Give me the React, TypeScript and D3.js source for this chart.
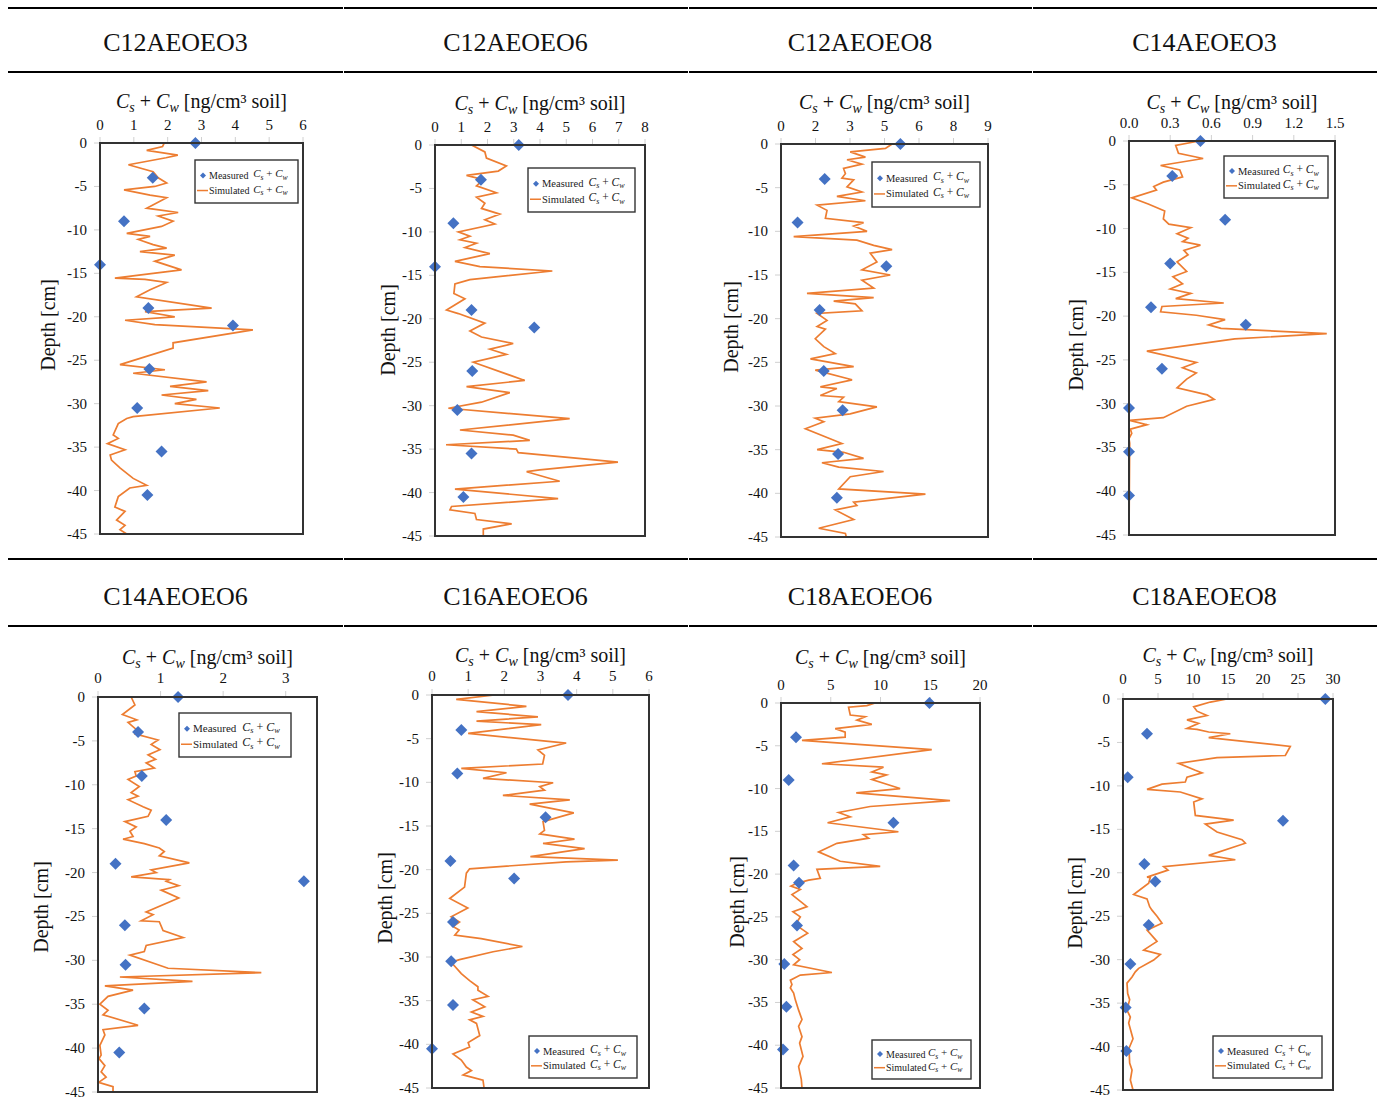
import React from 'react';
import * as d3 from 'd3';

// Sample names, in reading order (row 1 then row 2)
const SAMPLES = [
  'C12AEOEO3', 'C12AEOEO6', 'C12AEOEO8', 'C14AEOEO3',
  'C14AEOEO6', 'C16AEOEO6', 'C18AEOEO6', 'C18AEOEO8',
];

// Measured Cs + Cw, depths shared by all samples (null = no sample)
const MEASURED_DEPTH = [0, -4, -9, -14, -19, -21, -26, -30.5, -35.5, -40.5];
const MEASURED_C12AEOEO3 = [2.82, 1.56, 0.71, 0, 1.43, 3.93, 1.46, 1.1, 1.82, 1.4];
const MEASURED_C12AEOEO6 = [3.19, 1.75, 0.7, 0, 1.39, 3.78, 1.42, 0.85, 1.39, 1.08];
const MEASURED_C12AEOEO8 = [5.19, 1.9, 0.72, 4.58, 1.68, null, 1.86, 2.68, 2.48, 2.43];
const MEASURED_C14AEOEO3 = [0.52, 0.315, 0.7, 0.3, 0.16, 0.85, 0.24, 0, 0, 0];
const MEASURED_C14AEOEO6 = [1.28, 0.64, 0.7, 1.09, 0.28, 3.29, 0.43, 0.44, 0.74, 0.34];
const MEASURED_C16AEOEO6 = [3.76, 0.81, 0.7, 3.14, 0.51, 2.27, 0.58, 0.53, 0.58, 0];
const MEASURED_C18AEOEO6 = [14.92, 1.51, 0.77, 11.3, 1.27, 1.81, 1.61, 0.33, 0.54, 0.2];
const MEASURED_C18AEOEO8 = [28.9, 3.43, 0.67, 22.86, 3.05, 4.62, 3.67, 1.05, 0.38, 0.48];

// Simulated Cs + Cw profiles: [depth (cm), concentration]
const SIM_C12AEOEO3: [number, number][] = [
  [0, 1.9], [-0.4, 1.85], [-0.85, 1.38], [-1.4, 2.3], [-1.7, 1.95], [-2.5, 0.84], [-3.3, 1.57],
  [-4, 1.72], [-4.6, 1.97], [-5, 1.62], [-5.4, 0.71], [-6, 1.48], [-6.3, 1.97], [-7.5, 1.38],
  [-8, 2.31], [-8.4, 1.72], [-9, 2.16], [-9.6, 1.82], [-10.4, 0.79], [-10.75, 1.48], [-11.1, 1.13],
  [-11.7, 1.57], [-12.1, 1.97], [-12.5, 1.18], [-12.9, 2.21], [-13.6, 1.62], [-14.6, 2.41],
  [-15, 1.57], [-15.55, 0.44], [-15.7, 1.33], [-16.05, 1.97], [-16.9, 1.48], [-17.7, 1.08],
  [-19, 3.3], [-19.4, 1.33], [-20, 2.21], [-20.4, 0.74], [-20.9, 1.62], [-21.5, 4.52], [-23, 2.16],
  [-23.6, 2.16], [-25.5, 0.59], [-26.1, 1.92], [-26.5, 0.98], [-27.5, 3.15], [-28, 2.07],
  [-28.5, 3.2], [-29, 1.82], [-29.5, 2.85], [-30, 2.21], [-30.5, 3.54], [-31.5, 0.98],
  [-31.7, 0.79], [-32.3, 0.54], [-33.6, 0.39], [-34, 0.54], [-34.6, 0.22], [-35.3, 0.74],
  [-35.9, 0.3], [-36.5, 0.34], [-37.4, 0.59], [-38.6, 0.98], [-39.4, 1.38], [-39.7, 0.88],
  [-40.7, 0.54], [-41.9, 0.44], [-42.4, 0.74], [-43.4, 0.49], [-44, 0.74], [-44.5, 0.59], [-45, 0.79],
];
const SIM_C12AEOEO6: [number, number][] = [
  [0, 1.39], [-0.8, 1.9], [-1.5, 1.96], [-2.4, 2.72], [-3, 2.41], [-3.5, 1.2], [-4, 1.84],
  [-4.7, 1.58], [-5.5, 2.34], [-6, 1.58], [-6.7, 1.9], [-7.3, 1.77], [-7.95, 2.47], [-8.6, 1.9],
  [-9.1, 2.28], [-10, 0.89], [-10.5, 1.33], [-10.9, 0.95], [-11.3, 1.58], [-11.8, 1.14],
  [-12.5, 2.09], [-13.4, 0.76], [-14, 1.71], [-14.5, 4.47], [-15.5, 1.33], [-16, 0.76],
  [-17.1, 0.72], [-17.7, 1.14], [-19, 0.44], [-19.4, 0.89], [-20.5, 1.9], [-21.4, 1.33],
  [-22.1, 1.77], [-22.85, 2.98], [-23.5, 2.09], [-24.1, 2.72], [-25, 1.46], [-27.1, 3.42],
  [-27.8, 1.2], [-28.5, 2.85], [-29.6, 1.77], [-30.3, 0.51], [-31.5, 5.13], [-32.8, 0.95],
  [-33.4, 2.98], [-34, 3.61], [-34.5, 0.42], [-35, 3.1], [-35.4, 3.17], [-36.5, 6.97],
  [-37.4, 3.99], [-37.6, 3.49], [-38.7, 4.75], [-39.6, 0.76], [-40.7, 4.69], [-41.6, 0.63],
  [-42, 0.57], [-42.4, 1.52], [-43.1, 1.58], [-43.6, 2.92], [-44.2, 1.84], [-45, 1.84],
];
const SIM_C12AEOEO8: [number, number][] = [
  [0, 4.83], [-0.5, 4.54], [-0.9, 3.01], [-1.5, 3.67], [-1.8, 2.87], [-2.3, 3.52], [-2.8, 2.72],
  [-3.4, 2.8], [-3.9, 2.65], [-4.1, 3.16], [-4.9, 2.87], [-5.5, 3.52], [-6, 2.43], [-6.5, 3.67],
  [-7, 1.57], [-7.6, 2.0], [-8.5, 1.93], [-9, 3.59], [-9.4, 3.16], [-10, 3.74], [-10.6, 0.55],
  [-11, 3.3], [-11.6, 4.03], [-12.1, 4.83], [-12.5, 3.88], [-13.5, 4.17], [-14.4, 3.52],
  [-15, 4.75], [-15.6, 3.52], [-16.5, 4.03], [-17.1, 1.13], [-17.6, 4.03], [-18, 2.29],
  [-18.3, 3.23], [-19.1, 3.52], [-19.4, 1.57], [-20.2, 2.0], [-20.9, 1.57], [-21.2, 1.93],
  [-22.3, 1.49], [-23.2, 1.86], [-24, 2.36], [-24.6, 1.28], [-25.5, 3.16], [-25.9, 1.49],
  [-27, 3.09], [-27.8, 1.71], [-28, 2.43], [-28.8, 1.71], [-29, 2.72], [-29.5, 2.51],
  [-30.1, 4.17], [-30.9, 3.01], [-31.4, 1.49], [-31.8, 1.86], [-32.6, 1.06], [-34.3, 2.65],
  [-35, 1.57], [-35.3, 2.72], [-36, 3.59], [-36.5, 1.78], [-37, 2.51], [-37.5, 4.46],
  [-38.1, 3.01], [-39.5, 2.51], [-40.1, 6.28], [-41, 3.16], [-41.4, 3.3], [-41.9, 2.36],
  [-43, 3.16], [-44, 1.64], [-44.6, 2.8], [-45, 2.84],
];
const SIM_C14AEOEO3: [number, number][] = [
  [0, 0.51], [-0.5, 0.34], [-1.4, 0.36], [-2, 0.54], [-2.8, 0.23], [-3.3, 0.37], [-4.1, 0.39],
  [-4.7, 0.25], [-5.2, 0.18], [-5.6, 0.2], [-6.5, 0.02], [-7.2, 0.14], [-8, 0.26], [-8.9, 0.25],
  [-9.5, 0.29], [-9.9, 0.45], [-10.6, 0.35], [-11.1, 0.43], [-11.5, 0.39], [-11.9, 0.52],
  [-12.5, 0.4], [-13, 0.43], [-13.8, 0.35], [-14.9, 0.42], [-15.5, 0.32], [-16.3, 0.39],
  [-16.9, 0.3], [-17.4, 0.45], [-18, 0.34], [-18.5, 0.69], [-18.9, 0.24], [-19.5, 0.23],
  [-19.9, 0.49], [-20.4, 0.7], [-21, 0.58], [-21.4, 0.67], [-22, 1.44], [-22.6, 0.77],
  [-24, 0.13], [-25.3, 0.49], [-25.9, 0.39], [-26.5, 0.49], [-27.2, 0.42], [-28.2, 0.35],
  [-29, 0.57], [-29.5, 0.62], [-30.3, 0.42], [-31.6, 0.25], [-31.9, 0.005], [-32.4, 0.13],
  [-32.9, 0.01], [-33.4, 0.02], [-34, 0], [-34.5, 0.005], [-45, 0],
];
const SIM_C14AEOEO6: [number, number][] = [
  [0, 0.53], [-0.9, 0.59], [-2, 0.39], [-2.6, 0.62], [-2.9, 0.48], [-3.7, 0.61], [-4.2, 0.59],
  [-4.9, 0.96], [-5.4, 0.85], [-6, 0.99], [-6.6, 0.8], [-7.1, 0.92], [-7.5, 0.77], [-8.1, 0.9],
  [-8.5, 0.59], [-9, 0.61], [-9.4, 0.48], [-10.2, 0.66], [-10.9, 0.53], [-11.3, 0.64],
  [-11.7, 0.48], [-12.5, 0.72], [-12.9, 0.85], [-13.6, 0.8], [-14.2, 0.43], [-14.8, 0.61],
  [-15.3, 0.51], [-15.9, 0.56], [-16.2, 0.4], [-16.7, 0.74], [-17.2, 0.98], [-17.6, 1.06],
  [-18.1, 0.98], [-18.9, 1.46], [-19.7, 0.85], [-20, 0.93], [-20.5, 0.53], [-20.8, 1.14],
  [-21, 1.09], [-21.5, 1.29], [-22, 1.01], [-22.9, 1.29], [-24.5, 0.77], [-24.8, 0.88],
  [-25.5, 0.69], [-25.6, 0.98], [-26.6, 1.04], [-27.4, 1.36], [-28.3, 0.77], [-29, 0.74],
  [-29.4, 0.51], [-30.9, 1.12], [-31.4, 2.61], [-31.9, 0.35], [-32.4, 1.51], [-32.9, 0.11],
  [-33.4, 0.56], [-34.1, 0.16], [-35, 0.03], [-35.7, 0.16], [-36.2, 0.08], [-37.4, 0.64],
  [-37.9, 0.08], [-38.5, 0.11], [-39.7, 0.03], [-40.8, 0.05], [-41.2, 0.016], [-42, 0.11],
  [-42.7, 0.05], [-43.3, 0.13], [-43.9, 0.01], [-44.4, 0.24], [-45, 0.24],
];
const SIM_C16AEOEO6: [number, number][] = [
  [0, 1.73], [-0.5, 0.67], [-1.3, 2.61], [-1.9, 1.23], [-2.5, 2.93], [-3, 1.23], [-3.4, 3.02],
  [-4.4, 1.0], [-5.5, 3.71], [-6.3, 2.93], [-6.9, 3.11], [-7.9, 3.06], [-8.4, 0.81], [-8.9, 2.06],
  [-9.55, 1.41], [-10.05, 3.35], [-10.5, 2.98], [-10.9, 3.11], [-11.5, 1.96], [-12, 3.81],
  [-12.5, 2.7], [-13.5, 3.92], [-14.5, 3.07], [-15.5, 3.11], [-15.9, 2.98], [-16.5, 3.94],
  [-17, 3.07], [-17.6, 4.22], [-18.5, 2.72], [-18.9, 5.14], [-19.1, 3.71], [-19.9, 1.04],
  [-20.4, 0.95], [-22, 0.9], [-23.3, 0.49], [-24.4, 0.99], [-25.4, 0.53], [-26, 0.76],
  [-26.5, 0.58], [-26.9, 0.75], [-27.5, 0.63], [-27.9, 1.36], [-28.8, 2.5], [-29.4, 1.69],
  [-30.3, 0.76], [-30.6, 0.53], [-31.9, 0.81], [-32.7, 1.04], [-33.4, 1.27], [-33.8, 1.27],
  [-34.5, 1.55], [-34.9, 1.13], [-35.7, 1.46], [-36.3, 1.09], [-36.8, 1.41], [-37.2, 1.04],
  [-37.6, 1.23], [-39, 1.32], [-39.8, 1.0], [-40.3, 1.04], [-41.1, 0.58], [-41.8, 0.81],
  [-42.6, 0.95], [-43, 1.09], [-43.5, 0.86], [-43.7, 1.04], [-44.1, 1.41], [-45, 1.44],
];
const SIM_C18AEOEO6: [number, number][] = [
  [0, 9.46], [-0.3, 8.63], [-0.5, 6.79], [-1.4, 6.96], [-1.6, 8.46], [-2, 7.63], [-2.5, 9.13],
  [-3, 5.45], [-3.4, 6.45], [-4, 6.45], [-4.36, 2.11], [-5.45, 15.15], [-7.1, 4.11], [-7.5, 10.3],
  [-8.05, 9.13], [-8.4, 10.6], [-8.95, 9.13], [-10, 11.97], [-10.5, 7.56], [-11.4, 16.99],
  [-12.1, 8.96], [-12.8, 5.79], [-13.3, 6.96], [-14, 4.68], [-15.05, 11.8], [-15.4, 8.29],
  [-15.8, 8.8], [-16.4, 5.62], [-17.4, 3.78], [-18.5, 5.95], [-19.1, 9.97], [-19.45, 3.61],
  [-20.5, 3.95], [-20.7, 2.78], [-21.1, 1.54], [-21.4, 1.0], [-21.8, 1.94], [-22.4, 1.1],
  [-23.8, 2.61], [-24.4, 1.2], [-25, 1.94], [-25.9, 1.44], [-26.9, 2.68], [-27.9, 1.27],
  [-28.7, 2.11], [-29.4, 1.2], [-30, 1.87], [-30.6, 1.27], [-31.5, 5.12], [-31.8, 1.94],
  [-32.4, 0.94], [-32.9, 1.1], [-33.3, 0.94], [-33.9, 1.27], [-34.7, 1.44], [-35.9, 1.77],
  [-37, 2.11], [-37.8, 1.77], [-39, 2.11], [-39.75, 1.87], [-41.3, 2.21], [-42.5, 1.77],
  [-44, 2.04], [-45, 2.11],
];
const SIM_C18AEOEO8: [number, number][] = [
  [0, 14.86], [-0.35, 12.48], [-0.9, 10.1], [-1.4, 10.57], [-1.9, 12.0], [-2.4, 9.14],
  [-2.8, 10.8], [-3.4, 9.14], [-3.5, 10.57], [-3.8, 12.24], [-4, 15.33], [-4.45, 12.24],
  [-5.45, 23.9], [-6.5, 23.19], [-6.75, 13.43], [-7.4, 7.95], [-8.2, 10.33], [-8.5, 11.29],
  [-9, 9.14], [-9.55, 8.9], [-9.8, 5.57], [-10.4, 3.43], [-10.7, 8.19], [-11.5, 11.29],
  [-11.85, 10.1], [-13.4, 10.33], [-13.95, 15.81], [-14.4, 11.76], [-15.3, 13.43], [-16.2, 17.0],
  [-16.6, 17.48], [-18, 12.24], [-18.5, 16.05], [-19.3, 5.81], [-19.7, 6.43], [-20.5, 3.43],
  [-20.55, 3.9], [-21.2, 3.67], [-22.5, 1.52], [-23, 3.43], [-23.9, 3.81], [-24.3, 4.14],
  [-25, 4.86], [-25.8, 5.57], [-26.6, 3.43], [-27.9, 4.86], [-28.9, 2.95], [-29.4, 5.33],
  [-30.05, 4.38], [-31, 2.24], [-31.4, 1.76], [-32, 1.29], [-32.7, 0.57], [-33.9, 0.67],
  [-34.6, 0.95], [-35.8, 0.57], [-36.6, 1.05], [-37.3, 0.81], [-39.1, 1.43], [-40.2, 0.86],
  [-41.9, 0.95], [-42.7, 1.29], [-43.85, 1.05], [-45, 1.43],
];

// x axis ranges, tick positions and tick labels (Excel rounds 1.5 -> "2" etc.)
const X_MAX = [6, 8, 9, 1.5, 3.5, 6, 20, 30];
const X_TICKS = [
  [0, 1, 2, 3, 4, 5, 6],
  [0, 1, 2, 3, 4, 5, 6, 7, 8],
  [0, 1.5, 3, 4.5, 6, 7.5, 9],
  [0, 0.3, 0.6, 0.9, 1.2, 1.5],
  [0, 1, 2, 3],
  [0, 1, 2, 3, 4, 5, 6],
  [0, 5, 10, 15, 20],
  [0, 5, 10, 15, 20, 25, 30],
];
const X_TICK_LABELS = [
  ['0', '1', '2', '3', '4', '5', '6'],
  ['0', '1', '2', '3', '4', '5', '6', '7', '8'],
  ['0', '2', '3', '5', '6', '8', '9'],
  ['0.0', '0.3', '0.6', '0.9', '1.2', '1.5'],
  ['0', '1', '2', '3'],
  ['0', '1', '2', '3', '4', '5', '6'],
  ['0', '5', '10', '15', '20'],
  ['0', '5', '10', '15', '20', '25', '30'],
];
const DEPTH_TICKS = [0, -5, -10, -15, -20, -25, -30, -35, -40, -45];

const MEASURED = [
  MEASURED_C12AEOEO3, MEASURED_C12AEOEO6, MEASURED_C12AEOEO8, MEASURED_C14AEOEO3,
  MEASURED_C14AEOEO6, MEASURED_C16AEOEO6, MEASURED_C18AEOEO6, MEASURED_C18AEOEO8,
];
const SIMULATED = [
  SIM_C12AEOEO3, SIM_C12AEOEO6, SIM_C12AEOEO8, SIM_C14AEOEO3,
  SIM_C14AEOEO6, SIM_C16AEOEO6, SIM_C18AEOEO6, SIM_C18AEOEO8,
];

// Layout of each panel: plot box, title / tick rows, depth label, legend box
const LAYOUT = [
  { box: [100, 303, 143, 534], titleY: 101, tickY: 125, depth: [48, 325], legend: [195, 160, 103, 43], lf: 10 },
  { box: [435, 645, 145, 536], titleY: 103, tickY: 127, depth: [388, 330], legend: [528, 168, 107, 44], lf: 10.5 },
  { box: [781, 988, 144, 537], titleY: 102, tickY: 126, depth: [731, 327], legend: [872, 162, 108, 45], lf: 10.5 },
  { box: [1129, 1335, 141, 535], titleY: 102, tickY: 123, depth: [1076, 345], legend: [1224, 156, 104, 42], lf: 10.5 },
  { box: [98, 317, 697, 1092], titleY: 657, tickY: 678, depth: [41, 907], legend: [179, 713, 112, 44], lf: 11 },
  { box: [432, 649, 695, 1088], titleY: 655, tickY: 676, depth: [385, 898], legend: [529, 1036, 108, 42], lf: 10.5 },
  { box: [781, 980, 703, 1088], titleY: 657, tickY: 685, depth: [737, 902], legend: [872, 1040, 99, 39], lf: 10 },
  { box: [1123, 1333, 699, 1090], titleY: 655, tickY: 679, depth: [1075, 903], legend: [1213, 1036, 109, 42], lf: 10.5 },
];

const COL_EDGES = [8, 343, 688, 1032, 1377];
const RULES_Y = [8, 72, 559, 626];
const HEADER_Y = [51, 605];

const FONT = '"Liberation Serif", "Times New Roman", serif';
const ORANGE = '#ED7D31';
const BLUE = '#4472C4';
const FRAME = '#333';

const diamond = (r: number) => `M0,${-r}L${r},0L0,${r}L${-r},0Z`;

const Formula: React.FC<{ sub?: number }> = ({ sub = 4 }) => (
  <>
    <tspan fontStyle="italic">C</tspan>
    <tspan fontStyle="italic" fontSize="70%" dy={sub}>s</tspan>
    <tspan dy={-sub}> + </tspan>
    <tspan fontStyle="italic">C</tspan>
    <tspan fontStyle="italic" fontSize="70%" dy={sub}>w</tspan>
  </>
);

const Panel: React.FC<{ i: number }> = ({ i }) => {
  const L = LAYOUT[i];
  const [x0, x1, y0, y1] = L.box;
  const x = d3.scaleLinear().domain([0, X_MAX[i]]).range([x0, x1]);
  const y = d3.scaleLinear().domain([-45, 0]).range([y1, y0]);
  const line = d3
    .line<[number, number]>()
    .x((d) => x(d[1]))
    .y((d) => y(d[0]));
  const [lx, ly, lw, lh] = L.legend;
  const r1 = ly + lh * 0.36;
  const r2 = ly + lh * 0.71;

  return (
    <g fontFamily={FONT} fill="#111">
      {/* axis title */}
      <text x={(x0 + x1) / 2} y={L.titleY + 7} fontSize={20} textAnchor="middle">
        <Formula sub={4} />
        <tspan dy={-4}> [ng/cm³ soil]</tspan>
      </text>

      {/* x ticks */}
      {X_TICKS[i].map((t, k) => (
        <g key={`xt${k}`}>
          <line x1={x(t)} x2={x(t)} y1={y0} y2={y0 - 6} stroke="#d0d0d0" strokeWidth={1} />
          <text x={x(t)} y={L.tickY + 5} fontSize={15} textAnchor="middle">
            {X_TICK_LABELS[i][k]}
          </text>
        </g>
      ))}

      {/* y ticks */}
      {DEPTH_TICKS.map((t) => (
        <g key={`yt${t}`}>
          <line x1={x0 - 6} x2={x0} y1={y(t)} y2={y(t)} stroke="#d0d0d0" strokeWidth={1} />
          <text x={x0 - 13} y={y(t) + 5} fontSize={15} textAnchor="end">
            {t}
          </text>
        </g>
      ))}

      {/* depth label */}
      <text
        transform={`translate(${L.depth[0]},${L.depth[1]}) rotate(-90)`}
        y={7}
        fontSize={20}
        textAnchor="middle"
      >
        Depth [cm]
      </text>

      {/* simulated */}
      <path d={line(SIMULATED[i]) ?? ''} fill="none" stroke={ORANGE} strokeWidth={1.7} />

      {/* measured */}
      {MEASURED[i].map((v, k) =>
        v == null ? null : (
          <path
            key={`m${k}`}
            d={diamond(6)}
            transform={`translate(${x(v)},${y(MEASURED_DEPTH[k])})`}
            fill={BLUE}
          />
        )
      )}

      {/* frame */}
      <rect x={x0} y={y0} width={x1 - x0} height={y1 - y0} fill="none" stroke={FRAME} strokeWidth={2} />

      {/* legend */}
      <rect x={lx} y={ly} width={lw} height={lh} fill="#fff" stroke={FRAME} strokeWidth={1.4} />
      <path d={diamond(3)} transform={`translate(${lx + 8},${r1})`} fill={BLUE} />
      <line x1={lx + 2} x2={lx + 13} y1={r2} y2={r2} stroke={ORANGE} strokeWidth={1.5} />
      <text x={lx + 14} y={r1 + 3.5} fontSize={L.lf} fill="#222">Measured</text>
      <text x={lx + 14} y={r2 + 3.5} fontSize={L.lf} fill="#222">Simulated</text>
      <text x={lx + lw * 0.565} y={r1 + 2} fontSize={L.lf + 1} fill="#222">
        <Formula sub={2.5} />
      </text>
      <text x={lx + lw * 0.565} y={r2 + 2} fontSize={L.lf + 1} fill="#222">
        <Formula sub={2.5} />
      </text>
    </g>
  );
};

const App: React.FC = () => {
  return (
    <svg
      width={1379}
      height={1106}
      style={{ position: 'absolute', left: 0, top: 0, background: '#fff' }}
    >
      <rect width={1379} height={1106} fill="#fff" />
      {/* table rules, split per column */}
      {RULES_Y.map((ry) =>
        COL_EDGES.slice(0, 4).map((cx, c) => (
          <line
            key={`r${ry}-${c}`}
            x1={cx + (c === 0 ? 0 : 1)}
            x2={COL_EDGES[c + 1]}
            y1={ry}
            y2={ry}
            stroke="#000"
            strokeWidth={2}
          />
        ))
      )}
      {/* sample headers */}
      {SAMPLES.map((s, k) => {
        const c = k % 4;
        const row = Math.floor(k / 4);
        return (
          <text
            key={s}
            x={(COL_EDGES[c] + COL_EDGES[c + 1]) / 2}
            y={HEADER_Y[row]}
            fontFamily={FONT}
            fontSize={26}
            textAnchor="middle"
            fill="#111"
          >
            {s}
          </text>
        );
      })}
      {SAMPLES.map((s, k) => (
        <Panel key={`p${s}`} i={k} />
      ))}
    </svg>
  );
};

export default App;
